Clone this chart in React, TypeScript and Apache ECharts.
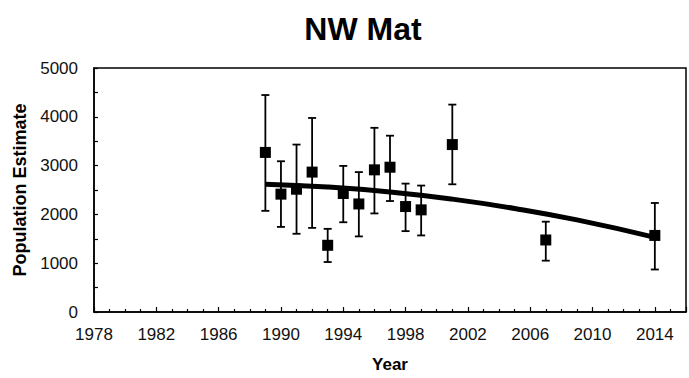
import React, { useEffect, useRef } from "react";
import * as echarts from "echarts";

const years = [1989, 1990, 1991, 1992, 1993, 1994, 1995, 1996, 1997, 1998, 1999, 2001, 2007, 2014];
const estimates = [3270, 2415, 2516, 2867, 1367, 2429, 2214, 2913, 2967, 2161, 2093, 3431, 1476, 1569];
const upper = [4446, 3089, 3431, 3976, 1704, 2994, 2867, 3774, 3613, 2631, 2591, 4250, 1851, 2234];
const lower = [2073, 1744, 1603, 1724, 1024, 1839, 1549, 2020, 2274, 1657, 1569, 2617, 1052, 871];

const trendYears = [1989, 1993, 1997, 2001, 2005, 2009, 2014];
const trendValues = [2620, 2562, 2460, 2313, 2122, 1887, 1530];

const FONT = "Liberation Sans, Arial, sans-serif";

export default function App() {
  const ref = useRef<HTMLDivElement>(null);
  useEffect(() => {
    if (!ref.current) return;
    const chart = echarts.init(ref.current, null, { renderer: "svg" });
    const errData = years.map((y, i) => [y, lower[i], upper[i]]);
    chart.setOption({
      animation: false,
      backgroundColor: "#fff",
      title: {
        text: "NW Mat",
        left: 358,
        textAlign: "center",
        top: 8,
        textStyle: { fontFamily: FONT, fontSize: 32, fontWeight: "bold", color: "#000" },
      },
      grid: {
        left: 94,
        top: 68,
        right: -2,
        bottom: 62,
        show: true,
        borderColor: "#000",
        borderWidth: 1.5,
      },
      xAxis: {
        type: "value",
        min: 1978,
        max: 2016,
        interval: 4,
        name: "Year",
        nameLocation: "middle",
        nameGap: 44,
        nameTextStyle: { fontFamily: FONT, fontSize: 17, fontWeight: "bold", color: "#000" },
        axisLine: { show: true, onZero: false, lineStyle: { color: "#000", width: 1.5 } },
        axisTick: { show: true, inside: true, length: 5, lineStyle: { color: "#000", width: 1.2 } },
        minorTick: { show: true, splitNumber: 4, length: 3, lineStyle: { color: "#000", width: 1.2 } },
        splitLine: { show: false },
        axisLabel: {
          fontFamily: FONT,
          fontSize: 17,
          color: "#111",
          margin: 14,
          formatter: (v: number) => (v > 2015 ? "" : String(v)),
        },
      },
      yAxis: {
        type: "value",
        min: 0,
        max: 5000,
        interval: 1000,
        name: "Population Estimate",
        nameLocation: "middle",
        nameGap: 64,
        nameTextStyle: { fontFamily: FONT, fontSize: 18, fontWeight: "bold", color: "#000" },
        axisLine: { show: true, lineStyle: { color: "#000", width: 1.5 } },
        axisTick: { show: true, inside: true, length: 4, lineStyle: { color: "#000", width: 1.2 } },
        minorTick: { show: true, splitNumber: 2, length: 4, lineStyle: { color: "#000", width: 1.2 } },
        splitLine: { show: false },
        axisLabel: {
          fontFamily: FONT,
          fontSize: 17,
          color: "#111",
          margin: 16,
          formatter: (v: number) => String(v),
        },
      },
      series: [
        {
          type: "custom",
          z: 1,
          data: errData,
          renderItem: (params: any, api: any) => {
            const x = api.value(0);
            const lo = api.coord([x, api.value(1)]);
            const hi = api.coord([x, api.value(2)]);
            const cw = 4;
            const style = { stroke: "#000", lineWidth: 1.8 };
            return {
              type: "group",
              children: [
                { type: "line", shape: { x1: lo[0], y1: lo[1], x2: hi[0], y2: hi[1] }, style },
                { type: "line", shape: { x1: hi[0] - cw, y1: hi[1], x2: hi[0] + cw, y2: hi[1] }, style },
                { type: "line", shape: { x1: lo[0] - cw, y1: lo[1], x2: lo[0] + cw, y2: lo[1] }, style },
              ],
            };
          },
        },
        {
          type: "line",
          z: 2,
          smooth: true,
          showSymbol: false,
          symbol: "none",
          data: trendYears.map((y, i) => [y, trendValues[i]]),
          lineStyle: { color: "#000", width: 5 },
        },
        {
          type: "scatter",
          z: 3,
          symbol: "rect",
          symbolSize: 11,
          data: years.map((y, i) => [y, estimates[i]]),
          itemStyle: { color: "#000", opacity: 1 },
        },
      ],
    });
    return () => chart.dispose();
  }, []);
  return <div ref={ref} style={{ width: 689, height: 378, position: "absolute", left: 0, top: 0 }} />;
}
